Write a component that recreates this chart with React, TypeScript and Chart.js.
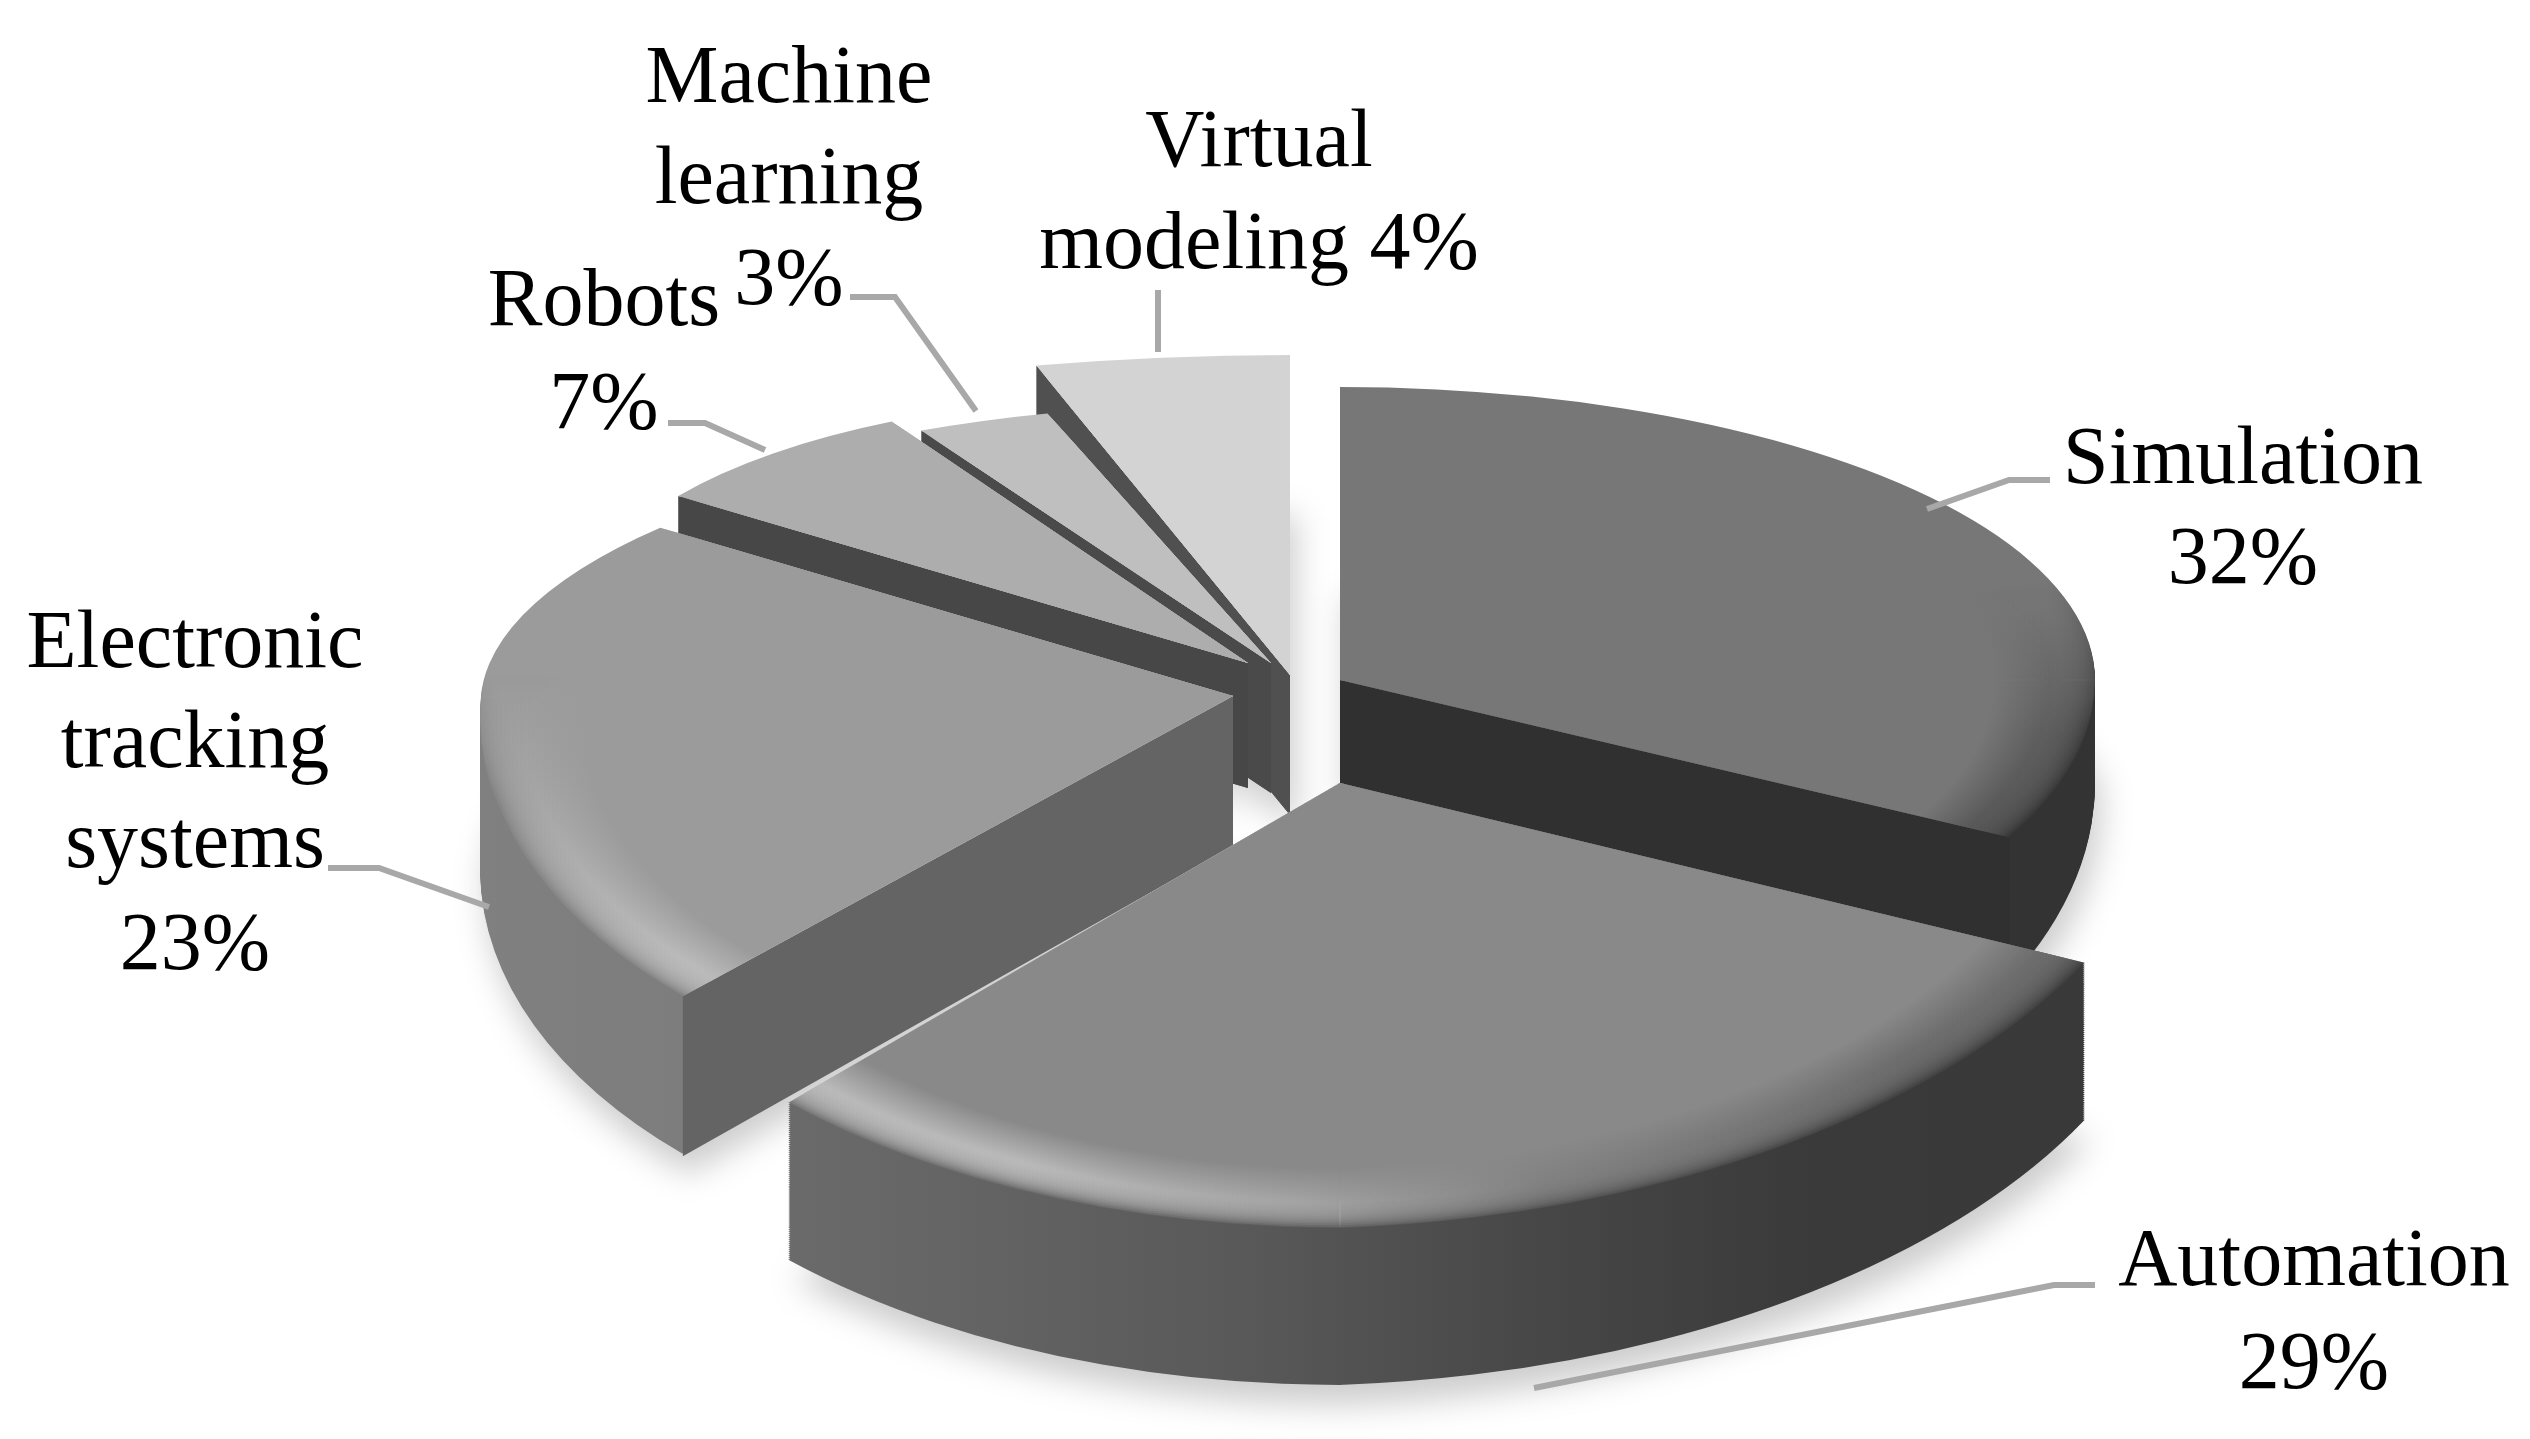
import React, { useEffect, useRef } from "react";
import { Chart, registerables } from "chart.js";

Chart.register(...registerables);

const categories = ["Simulation", "Automation", "Electronic tracking systems", "Robots", "Machine learning", "Virtual modeling"];
const percentValues = [32, 29, 23, 7, 3, 4];
const topColors = ["#777777", "#898989", "#9b9b9b", "#adadad", "#bfbfbf", "#d3d3d3"];

// Label text, one entry per printed line: text, centre x, centre y
const labelLines: [string, number, number][] = [
  ["Simulation", 2243, 461], ["32%", 2243, 561],
  ["Automation", 2314, 1263], ["29%", 2314, 1366],
  ["Electronic", 195, 645], ["tracking", 195, 745], ["systems", 195, 845], ["23%", 195, 947],
  ["Robots", 604, 303], ["7%", 604, 406],
  ["Machine", 789, 80], ["learning", 789, 181], ["3%", 789, 282],
  ["Virtual", 1259, 144], ["modeling 4%", 1259, 246],
];

const leaderLines: number[][][] = [
  [[1927, 509], [2009, 480], [2050, 480]],
  [[1534, 1388], [2054, 1285], [2095, 1285]],
  [[328, 868], [379, 868], [489, 907]],
  [[668, 423], [705, 423], [765, 450]],
  [[850, 297], [895, 297], [976, 411]],
  [[1158, 290], [1158, 352]],
];

// 3D projection of each wedge: tip position, radii, wall heights, tilt and lean
type View = { ax: number; ay: number; rxL: number; rxR: number; far: number; near: number; dA: number; dR: number; skew: number; lean: number };
const views: View[] = [
  { ax: 1340, ay: 680, rxL: 755, rxR: 755, far: 293, near: 340, dA: 103, dR: 190, skew: 0, lean: 0 },
  { ax: 1340, ay: 783, rxL: 793, rxR: 840, far: 445, near: 445, dA: 157, dR: 157, skew: -0.035, lean: 0 },
  { ax: 1233, ay: 696, rxL: 752, rxR: 752, far: 270, near: 418, dA: 150, dR: 160, skew: 0, lean: -0.09 },
  { ax: 1248, ay: 663, rxL: 671, rxR: 671, far: 268, near: 300, dA: 125, dR: 125, skew: 0, lean: 0.27 },
  { ax: 1271, ay: 663, rxL: 716, rxR: 716, far: 258, near: 300, dA: 130, dR: 130, skew: 0, lean: 0.168 },
  { ax: 1290, ay: 675, rxL: 1000, rxR: 1000, far: 320, near: 320, dA: 140, dR: 140, skew: 0, lean: 0 },
];
const paintOrder = [5, 4, 3, 0, 2, 1];

// Outer wall shade from left to right of each wedge's own ellipse
const wallStops: [number, string][][] = [
  [[0, "#333333"], [1, "#333333"]],
  [[0, "#707070"], [0.2, "#686868"], [0.45, "#585858"], [0.62, "#474747"], [0.78, "#3a3a3a"], [1, "#393939"]],
  [[0, "#808080"], [0.2, "#7c7c7c"], [1, "#707070"]],
  [[0, "#474747"], [1, "#474747"]],
  [[0, "#4a4a4a"], [1, "#4a4a4a"]],
  [[0, "#505050"], [1, "#505050"]],
];
// Cut face: which edge shows, and its shade
const cutFaces: ({ edge: "start" | "end"; color: string } | null)[] = [
  { edge: "end", color: "#303030" },
  null,
  { edge: "start", color: "#646464" },
  { edge: "start", color: "#474747" },
  { edge: "start", color: "#4a4a4a" },
  { edge: "start", color: "#505050" },
];
// Shade of the outermost edge of the top face, by angle (degrees clockwise from the top)
const edgeStops: [number, string][][] = [
  [[0, "#777777"], [70, "#777777"], [98, "#3c3c3c"], [118, "#333333"], [360, "#333333"]],
  [[0, "#393939"], [140, "#3c3c3c"], [175, "#5a5a5a"], [224, "#707070"], [360, "#707070"]],
  [[0, "#808080"], [255, "#808080"], [275, "#9b9b9b"], [360, "#9b9b9b"]],
  [[0, "#adadad"], [360, "#adadad"]],
  [[0, "#bfbfbf"], [360, "#bfbfbf"]],
  [[0, "#d3d3d3"], [360, "#d3d3d3"]],
];
// Bevel highlight by angle
const rimStops: [number, string][][] = [
  [[0, "#777777"], [75, "#777777"], [100, "#606060"], [118, "#5a5a5a"], [360, "#5a5a5a"]],
  [[0, "#6a6a6a"], [135, "#707070"], [165, "#848484"], [183, "#a8a8a8"], [205, "#bebebe"], [360, "#bebebe"]],
  [[0, "#bebebe"], [228, "#bebebe"], [255, "#a8a8a8"], [275, "#9b9b9b"], [360, "#9b9b9b"]],
  [[0, "#adadad"], [360, "#adadad"]],
  [[0, "#bfbfbf"], [360, "#bfbfbf"]],
  [[0, "#d3d3d3"], [360, "#d3d3d3"]],
];
const bevelLayers = [0.998, 0.994, 0.99, 0.986, 0.982, 0.978, 0.974, 0.97, 0.966, 0.962, 0.958, 0.954, 0.95, 0.946];

const W = 2530;
const H = 1439;

function paintArc(ctx: CanvasRenderingContext2D, el: any, fill: any) {
  const ghost = Object.create(el);
  ghost.options = {
    backgroundColor: fill, borderColor: "transparent", borderWidth: 0, borderAlign: "center",
    borderRadius: 0, spacing: 0, offset: 0, circular: true, selfJoin: false,
  };
  ghost.draw(ctx);
}

// Draw one wedge: far/near and left/right halves get their own scale, which stands in for perspective
function paintWedge(
  ctx: CanvasRenderingContext2D, el: any, v: View, t: number,
  makeFill: (c: CanvasRenderingContext2D) => any, k = 1,
) {
  const R = el.outerRadius;
  const ay = v.ay + t * v.dA;
  const grow = t * (v.dR - v.dA);
  const rows = [
    { y0: 0, y1: ay + 0.5, ry: v.far - grow },
    { y0: ay - 0.5, y1: H, ry: v.near + grow },
  ];
  const cols = [
    { x0: 0, x1: v.ax + 0.5, rx: v.rxL, sk: 0 },
    { x0: v.ax - 0.5, x1: W, rx: v.rxR, sk: v.skew },
  ];
  for (const h of rows) {
    for (const c of cols) {
      ctx.save();
      ctx.beginPath();
      ctx.rect(c.x0, h.y0, c.x1 - c.x0, h.y1 - h.y0);
      ctx.clip();
      ctx.translate(v.ax, ay);
      ctx.transform(1, c.sk, v.lean, 1, 0, 0);
      ctx.scale((k * c.rx) / R, (k * h.ry) / R);
      ctx.translate(-el.x, -el.y);
      paintArc(ctx, el, makeFill(ctx));
      ctx.restore();
    }
  }
}

const conic = (c: any, el: any, stops: [number, string][]) => {
  const g = c.createConicGradient(-Math.PI / 2, el.x, el.y);
  for (const [deg, col] of stops) g.addColorStop(deg / 360, col);
  return g;
};

const pie3d = {
  id: "pie3d",
  beforeDatasetsDraw(chart: any) {
    const ctx: CanvasRenderingContext2D = chart.ctx;
    const arcs = chart.getDatasetMeta(0).data;

    // soft floor shadow: silhouette of the wedge bases, blurred
    const off = document.createElement("canvas");
    off.width = W;
    off.height = H;
    const octx = off.getContext("2d") as CanvasRenderingContext2D;
    for (const i of paintOrder) paintWedge(octx, arcs[i], views[i], 1, () => "#000000");
    ctx.save();
    ctx.filter = "blur(16px)";
    ctx.globalAlpha = 0.2;
    ctx.drawImage(off, 6, 20);
    ctx.restore();

    for (const i of paintOrder) {
      const el = arcs[i];
      const v = views[i];
      const R = el.outerRadius;
      const wallFill = (c: CanvasRenderingContext2D) => {
        const g = c.createLinearGradient(el.x - R, 0, el.x + R, 0);
        for (const [u, col] of wallStops[i]) g.addColorStop(u, col);
        return g;
      };
      // outer wall: sweep the wedge downward
      const steps = Math.ceil(Math.max(v.dA, v.dR) / 2);
      for (let s = steps; s >= 1; s--) paintWedge(ctx, el, v, s / steps, wallFill);

      // cut face
      const cut = cutFaces[i];
      if (cut) {
        const a = cut.edge === "start" ? el.startAngle : el.endAngle;
        const sin = Math.sin(a);
        const cos = Math.cos(a);
        const off_ = (sin >= 0 ? v.near : v.far) * sin;
        const rimX = v.ax + (cos < 0 ? v.rxL : v.rxR) * cos + v.lean * off_;
        const rimY = v.ay + off_;
        ctx.fillStyle = cut.color;
        ctx.beginPath();
        ctx.moveTo(v.ax, v.ay);
        ctx.lineTo(rimX, rimY);
        ctx.lineTo(rimX, rimY + v.dR);
        ctx.lineTo(v.ax, v.ay + v.dA);
        ctx.closePath();
        ctx.fill();
      }

      // top face: outer edge, fading into a bevel highlight, fading into the flat colour
      paintWedge(ctx, el, v, 0, (c) => conic(c, el, edgeStops[i]));
      ctx.save();
      ctx.globalAlpha = 0.18;
      for (const k of bevelLayers) paintWedge(ctx, el, v, 0, (c) => conic(c, el, rimStops[i]), k);
      ctx.restore();
      paintWedge(ctx, el, v, 0, (c) => {
        const g = c.createRadialGradient(el.x, el.y, 0, el.x, el.y, R);
        g.addColorStop(0, topColors[i]);
        g.addColorStop(0.865, topColors[i]);
        g.addColorStop(0.94, topColors[i] + "00");
        g.addColorStop(1, topColors[i] + "00");
        return g;
      });
    }

    // leader lines
    ctx.save();
    ctx.strokeStyle = "#a8a8a8";
    ctx.lineWidth = 6;
    for (const line of leaderLines) {
      ctx.beginPath();
      line.forEach(([x, y], k) => (k ? ctx.lineTo(x, y) : ctx.moveTo(x, y)));
      ctx.stroke();
    }
    // labels
    ctx.fillStyle = "#000000";
    ctx.font = '82px "Liberation Serif"';
    ctx.textAlign = "center";
    ctx.textBaseline = "middle";
    for (const [text, x, y] of labelLines) ctx.fillText(text, x, y);
    ctx.restore();
    return false;
  },
};

export default function App() {
  const ref = useRef<HTMLCanvasElement>(null);
  useEffect(() => {
    const chart = new Chart(ref.current as HTMLCanvasElement, {
      type: "pie",
      data: {
        labels: categories,
        datasets: [{ data: percentValues, backgroundColor: topColors, borderWidth: 0, clip: false } as any],
      },
      options: {
        animation: false,
        responsive: false,
        plugins: { legend: { display: false }, tooltip: { enabled: false } },
      },
      plugins: [pie3d as any],
    });
    return () => chart.destroy();
  }, []);
  return (
    <canvas
      ref={ref}
      width={W}
      height={H}
      style={{ position: "fixed", left: 0, top: 0, width: W, height: H, display: "block", background: "#ffffff" }}
    />
  );
}
